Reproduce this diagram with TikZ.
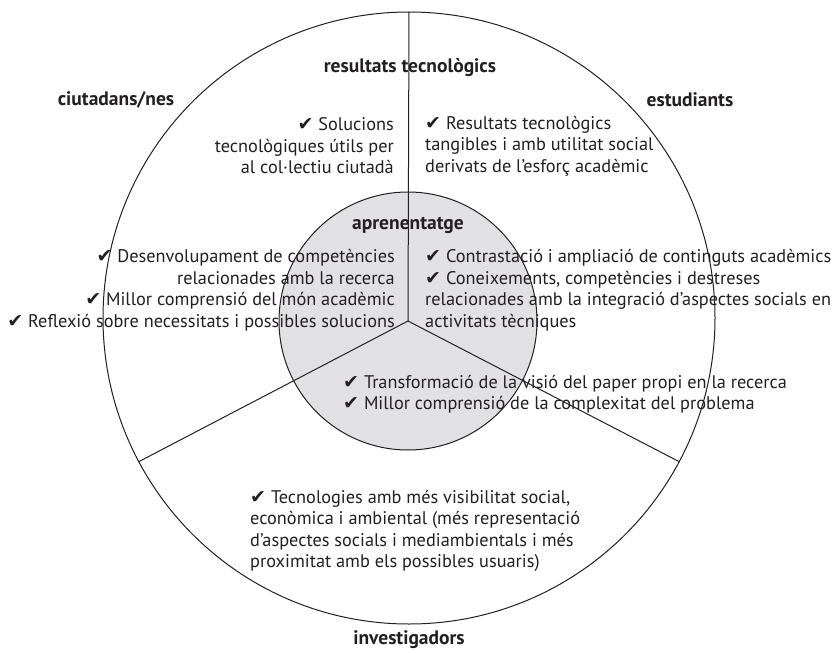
\documentclass[tikz,border=0pt]{standalone}
\usepackage{fontspec}
\setmainfont{PT Sans}
\newfontfamily\checkfont{DejaVu Sans}
\newcommand{\chk}{{\checkfont\fontsize{19}{18}\selectfont\char"2714}}
\definecolor{ink}{HTML}{231F20}
\definecolor{core}{HTML}{E1E1E3}
\begin{document}
\begin{tikzpicture}[x=1pt,y=-1pt,
  ring/.style={circle,draw=ink,line width=1pt,inner sep=0pt},
  divider/.style={draw=ink,line width=1pt},
  group/.style={font=\fontsize{19.5}{22}\selectfont\bfseries,text=ink,inner sep=0pt},
  body/.style={font=\fontsize{18.3}{21.5}\selectfont,text=ink,inner sep=0pt}]
\useasboundingbox (0,0) rectangle (836,653);

% outer ring and learning core
\node[ring,minimum size=612pt] (outer) at (409,318) {};
\node[ring,fill=core,minimum size=258pt] (inner) at (408,321) {};

% three sector dividers from the core centre
\draw[divider] (inner.center) -- (outer.90);
\draw[divider] (inner.center) -- (outer.208);
\draw[divider] (inner.center) -- (outer.332);

% group labels
\node[group] (tec) at (410,68) {resultats tecnològics};
\node[group] (ciu) at (116,100) {ciutadans/nes};
\node[group] (est) at (690,100) {estudiants};
\node[group] (apr) at (408,225) {aprenentatge};
\node[group] (inv) at (409,640) {investigadors};

% outcomes
\node[body,anchor=east,align=right] (b1) at (394,146)
  {\chk\ Solucions\\tecnològiques útils per\\al col·lectiu ciutadà};
\node[body,anchor=west,align=left] (b2) at (425,146)
  {\chk\ Resultats tecnològics\\tangibles i amb utilitat social\\derivats de l’esforç acadèmic};
\node[body,anchor=east,align=right] (b3) at (395,290)
  {\chk\ Desenvolupament de competències\\relacionades amb la recerca\\\chk\ Millor comprensió del món acadèmic\\\chk\ Reflexió sobre necessitats i possibles solucions};
\node[body,anchor=west,align=left] (b4) at (425,290)
  {\chk\ Contrastació i ampliació de continguts acadèmics\\\chk\ Coneixements, competències i destreses\\relacionades amb la integració d’aspectes socials en\\activitats tècniques};
\node[body,anchor=west,align=left] (b5) at (343,394)
  {\chk\ Transformació de la visió del paper propi en la recerca\\\chk\ Millor comprensió de la complexitat del problema};
\node[body,anchor=west,align=left] (b6) at (250,531)
  {\chk\ Tecnologies amb més visibilitat social,\\econòmica i ambiental (més representació\\d’aspectes socials i mediambientals i més\\proximitat amb els possibles usuaris)};
\end{tikzpicture}
\end{document}
